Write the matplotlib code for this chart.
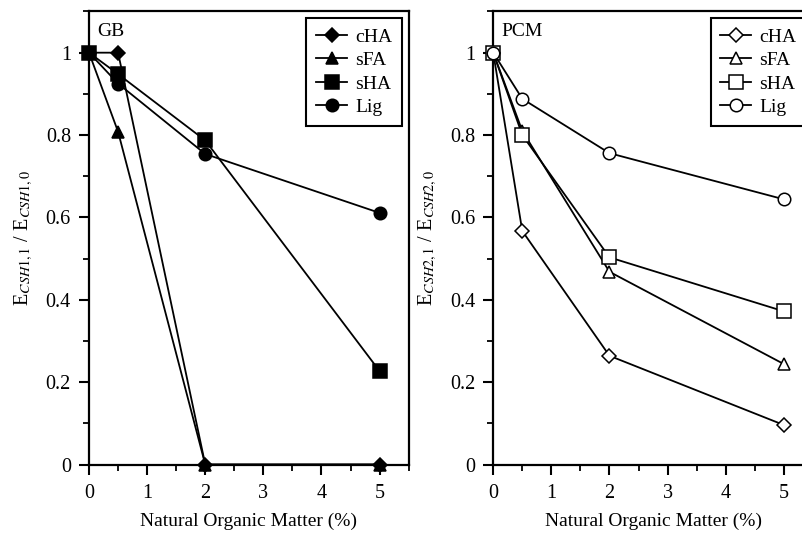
import numpy as np
import matplotlib
matplotlib.use('Agg')
from matplotlib import pyplot as plt
from matplotlib.ticker import MultipleLocator, FixedLocator

plt.rcParams['font.family'] = ['Liberation Serif', 'DejaVu Serif']
plt.rcParams['mathtext.fontset'] = 'stix'

nom = [0, 0.5, 2, 5]
series = ['cHA', 'sFA', 'sHA', 'Lig']
markers = ['D', '^', 's', 'o']
msizes = [7.5, 9, 9.5, 9]

# GB (left panel)
gb_cha = [1.0, 1.0, 0.0, 0.0]
gb_sfa = [1.0, 0.808, 0.0, 0.0]
gb_sha = [1.0, 0.948, 0.787, 0.227]
gb_lig = [1.0, 0.925, 0.754, 0.611]

# PCM (right panel)
pcm_cha = [1.0, 0.567, 0.264, 0.096]
pcm_sfa = [1.0, 0.81, 0.468, 0.244]
pcm_sha = [1.0, 0.80, 0.503, 0.372]
pcm_lig = [1.0, 0.888, 0.756, 0.644]

fig = plt.figure(figsize=(8.02, 5.37), dpi=100)
ax1 = fig.add_axes([0.111, 0.135, 0.3985, 0.8436])
ax2 = fig.add_axes([0.615, 0.135, 0.3985, 0.8436])

def draw(ax, data, filled, label, ylab):
    for vals, name, m, ms in zip(data, series, markers, msizes):
        ax.plot(nom, vals, color='black', lw=1.3, marker=m, ms=ms,
                mfc='black' if filled else 'white', mec='black', mew=1.1,
                label=name, clip_on=False, zorder=3)
    ax.set_xlim(0, 5.5)
    ax.set_ylim(0, 1.1)
    ax.xaxis.set_major_locator(FixedLocator([0, 1, 2, 3, 4, 5]))
    ax.xaxis.set_minor_locator(MultipleLocator(0.5))
    ax.yaxis.set_major_locator(FixedLocator([0, 0.2, 0.4, 0.6, 0.8, 1.0]))
    ax.yaxis.set_minor_locator(MultipleLocator(0.1))
    ax.set_yticklabels(['0', '0.2', '0.4', '0.6', '0.8', '1'])
    ax.tick_params(which='major', direction='out', length=7, width=1.5,
                   labelsize=14.5, pad=6)
    ax.tick_params(which='minor', direction='out', length=4, width=1.3)
    ax.tick_params(axis='x', which='major', pad=7)
    for s in ax.spines.values():
        s.set_linewidth(1.6)
    ax.set_xlabel('Natural Organic Matter (%)', fontsize=14, labelpad=7)
    ax.set_ylabel(ylab, fontsize=14.5, labelpad=8)
    ax.text(0.025, 0.975, label, transform=ax.transAxes, fontsize=14,
            va='top', ha='left')
    leg = ax.legend(loc='upper right', fontsize=14, handlelength=1.6,
                    handletextpad=0.4, borderaxespad=0.35, labelspacing=0.3,
                    fancybox=False, edgecolor='black', framealpha=1,
                    borderpad=0.5)
    leg.get_frame().set_linewidth(1.5)

draw(ax1, [gb_cha, gb_sfa, gb_sha, gb_lig], True, 'GB',
     r'E$_{\mathit{CSH1,1}}$ / E$_{\mathit{CSH1,0}}$')
draw(ax2, [pcm_cha, pcm_sfa, pcm_sha, pcm_lig], False, 'PCM',
     r'E$_{\mathit{CSH2,1}}$ / E$_{\mathit{CSH2,0}}$')

fig.savefig('out.png', dpi=100)
